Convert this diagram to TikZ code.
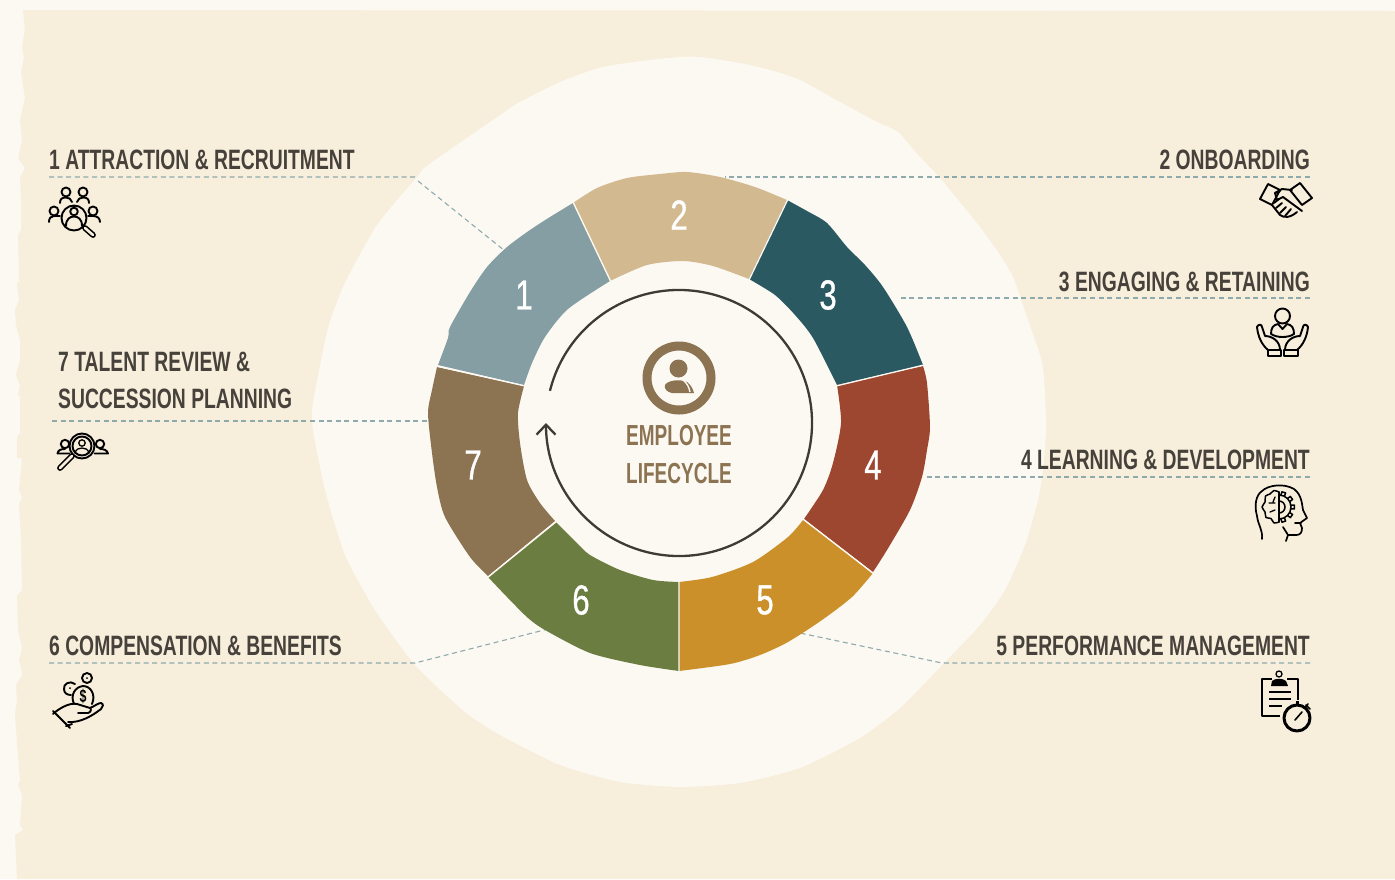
\documentclass[tikz,border=0pt]{standalone}
\usepackage{fontspec}
\usetikzlibrary{arrows.meta}
\setmainfont{Liberation Sans}
\newfontfamily\labfont[FakeStretch=0.69]{Liberation Sans}
\newfontfamily\cenfont[FakeStretch=0.655]{Liberation Sans}
\newfontfamily\numfont[FakeStretch=0.74,FakeBold=0.8]{Liberation Sans}
\definecolor{bgpale}{HTML}{FCF9F3}
\definecolor{beige}{HTML}{F7EEDC}
\definecolor{dashc}{HTML}{8FAAAD}
\definecolor{inkc}{HTML}{46413A}
\definecolor{arcc}{HTML}{3F3A32}
\definecolor{segA}{HTML}{849EA4}
\definecolor{segB}{HTML}{D3B98F}
\definecolor{segC}{HTML}{2A5962}
\definecolor{segD}{HTML}{9E4730}
\definecolor{segE}{HTML}{CB9029}
\definecolor{segF}{HTML}{6B7D40}
\definecolor{segG}{HTML}{8C7352}
\tikzset{
  labeltext/.style={inner sep=0pt,text=inkc,font=\labfont\bfseries\fontsize{28}{28}\selectfont},
  centertext/.style={inner sep=0pt,text=segG,font=\cenfont\bfseries\fontsize{29}{29}\selectfont},
  numtext/.style={inner sep=0pt,text=white,font=\numfont\fontsize{42}{42}\selectfont},
  leader/.style={draw=dashc,line width=1.1pt,dash pattern=on 5pt off 3.6pt},
  icon/.style={draw=black,line width=1.9pt,line cap=round,line join=round,fill=none},
  iconbar/.style={icon,double=beige,double distance=2.6pt,line width=1.6pt},
  divider/.style={draw=bgpale,line width=1.3pt},
  edge/.style={smooth,tension=0.45},
}
\begin{document}
\begin{tikzpicture}[x=1pt,y=-1pt]
\path[use as bounding box,fill=bgpale] (0,0) rectangle (1395,879);
% torn beige sheet
\fill[beige] (23,10) -- (1395,11) -- (1395,879) -- (17,879) -- (15,835) -- (23,830) -- (20,825) -- (22,795) -- (18,785) -- (20,780) -- (19,770) -- (15,715) -- (17,700) -- (16,685) -- (22,675) -- (22,672) -- (19,660) -- (22,648) -- (18,630) -- (17,596) -- (22,590) -- (21,540) -- (19,503) -- (22,498) -- (19,490) -- (22,458) -- (17,458) -- (17,437) -- (20,433) -- (20,397) -- (18,395) -- (20,386) -- (16,375) -- (20,360) -- (20,340) -- (16,325) -- (15,310) -- (19,300) -- (17,283) -- (21,280) -- (19,280) -- (18,235) -- (21,230) -- (21,200) -- (20,178) -- (25,168) -- (18,158) -- (22,140) -- (20,120) -- (25,98) -- (21,72) -- (24,57) -- (22,47) -- (25,30) -- cycle;
% pale blob
\fill[bgpale] plot[smooth cycle,tension=0.35] coordinates {(680,57) (700,57) (740,63) (770,70) (800,80) (840,102) (877,122) (898,132) (918,155) (940,178) (980,227) (1000,255) (1013,277) (1028,320) (1042,362) (1045,395) (1046,430) (1043,470) (1038,500) (1025,545) (1005,590) (980,625) (942,665) (900,708) (860,738) (800,768) (740,783) (680,787) (620,782) (560,765) (500,735) (465,712) (415,665) (375,610) (345,555) (325,490) (313,430) (313,403) (328,328) (345,283) (377,225) (417,177) (428,165) (493,120) (518,103) (560,82) (602,67) (650,60)};
% leader anchor points
\coordinate (l1a) at (49,177); \coordinate (l1b) at (415,177); \coordinate (l1d) at (418,181); \coordinate (l1c) at (505,251);
\coordinate (l2a) at (725,177); \coordinate (l2b) at (1310,177);
\coordinate (l3a) at (900,298); \coordinate (l3b) at (1310,298);
\coordinate (l4a) at (925,477); \coordinate (l4b) at (1310,477);
\coordinate (l5a) at (1310,663); \coordinate (l5b) at (942,663); \coordinate (l5c) at (800,633);
\coordinate (l6a) at (49,663); \coordinate (l6b) at (415,663); \coordinate (l6c) at (548,629);
\coordinate (l7a) at (52,421); \coordinate (l7b) at (430,421);
\draw[leader] (l1a) -- (l1b) (l1d) -- (l1c);
\draw[leader] (l2b) -- (l2a);
\draw[leader] (l3b) -- (l3a);
\draw[leader] (l4b) -- (l4a);
\draw[leader] (l5a) -- (l5b) -- (l5c);
\draw[leader] (l6a) -- (l6b) -- (l6c);
\draw[leader] (l7a) -- (l7b);
% ring segments
\fill[segA] plot[edge] coordinates {(573,203) (550,217) (530,230) (507,247) (487,267) (470,292) (450,327) (448,338) (438,365)} -- plot[edge] coordinates {(524,385) (532,363) (545,337) (568,309) (610,281)} -- cycle;
\fill[segB] plot[edge] coordinates {(573,203) (597,188) (627,178) (660,174) (687,172) (720,177) (755,187) (787,200)} -- plot[edge] coordinates {(749,279) (713,266) (683,261) (647,265) (610,281)} -- cycle;
\fill[segC] plot[edge] coordinates {(787,200) (807,211) (827,223) (847,247) (865,265) (883,287) (907,327) (923,365)} -- plot[edge] coordinates {(837,385) (813,338) (795,315) (775,295) (749,279)} -- cycle;
\fill[segD] plot[edge] coordinates {(923,366) (927,383) (930,427) (927,450) (922,477) (910,510) (887,550) (873,572)} -- plot[edge] coordinates {(804,519) (823,490) (833,463) (841,423) (837,385)} -- cycle;
\fill[segE] plot[edge] coordinates {(873,573) (852,597) (822,620) (788,642) (760,655) (730,664) (679,671)} -- plot[edge] coordinates {(679,582) (712,577) (753,562) (788,537) (803,520)} -- cycle;
\fill[segF] plot[edge] coordinates {(679,671) (640,665) (590,653) (545,630) (528,618) (507,597) (488,577)} -- plot[edge] coordinates {(556,522) (577,543) (590,555) (620,570) (653,580) (679,582)} -- cycle;
\fill[segG] plot[edge] coordinates {(488,576) (470,557) (445,517) (437,487) (432,453) (428,413) (432,390) (437,367)} -- plot[edge] coordinates {(524,386) (518,413) (520,443) (527,480) (540,503) (555,521)} -- cycle;
\coordinate (d12o) at (573,202); \coordinate (d12i) at (611,282);
\coordinate (d23o) at (788,199); \coordinate (d23i) at (749,280);
\coordinate (d34o) at (924,365); \coordinate (d34i) at (836,386);
\coordinate (d45o) at (874,574); \coordinate (d45i) at (803,519);
\coordinate (d56o) at (679,672); \coordinate (d56i) at (679,581);
\coordinate (d67o) at (487,578); \coordinate (d67i) at (557,521);
\coordinate (d71o) at (436,366); \coordinate (d71i) at (525,386);
\draw[divider] (d12o) -- (d12i) (d23o) -- (d23i) (d34o) -- (d34i) (d45o) -- (d45i) (d56o) -- (d56i) (d67o) -- (d67i) (d71o) -- (d71i);
% cycle arrow
\begin{scope}[shift={(679,423)},y=1pt]
\draw[arcc,line width=2.3pt,-{Straight Barb[length=10pt,width=19pt,line width=2.3pt]}] (166:133) arc[start angle=166,end angle=-180,radius=133];
\end{scope}
\node[numtext] (n1) at (524,295) {1};
\node[numtext] (n2) at (679,215) {2};
\node[numtext] (n3) at (828,295) {3};
\node[numtext] (n4) at (873,465) {4};
\node[numtext] (n5) at (765,600) {5};
\node[numtext] (n6) at (581,600) {6};
\node[numtext] (n7) at (473,465) {7};
% centre
\draw[segG,line width=9pt] (679,378) circle[radius=32];
\fill[segG] (678.5,368.5) circle[radius=9];
\fill[segG] (665,385) .. controls (668,380) and (680,379) .. (687,382) .. controls (691,385) and (693,389) .. (694,393) -- (672,393) .. controls (667,392) and (664,389) .. (665,385) -- cycle;
\draw[bgpale,line width=1.4pt] (683,380) .. controls (687,383) and (689,387) .. (690,392);
\node[centertext,anchor=base] (c1) at (679,445.8) {EMPLOYEE};
\node[centertext,anchor=base] (c2) at (679,483.8) {LIFECYCLE};
% labels
\node[labeltext,anchor=base west] (t1) at (49,169.5) {1 ATTRACTION \& RECRUITMENT};
\node[labeltext,anchor=base east] (t2) at (1310,169.5) {2 ONBOARDING};
\node[labeltext,anchor=base east] (t3) at (1310,291.5) {3 ENGAGING \& RETAINING};
\node[labeltext,anchor=base east] (t4) at (1310,469.5) {4 LEARNING \& DEVELOPMENT};
\node[labeltext,anchor=base east] (t5) at (1310,655.5) {5 PERFORMANCE MANAGEMENT};
\node[labeltext,anchor=base west] (t6) at (49,655.5) {6 COMPENSATION \& BENEFITS};
\node[labeltext,anchor=base west] (t7a) at (58,371.5) {7 TALENT REVIEW \&};
\node[labeltext,anchor=base west] (t7b) at (58,408.5) {SUCCESSION PLANNING};
% icon 1: people under a lens
\draw[icon] (74,218) circle[radius=12.5] (74,211.5) circle[radius=3.8];
\draw[icon] (66,226) .. controls (66,219) and (70,216.5) .. (74,216.5) .. controls (78,216.5) and (82,219) .. (82,226);
\draw[iconbar] (85,228) -- (93,235);
\draw[icon] (66,192) circle[radius=4.5] (83,192) circle[radius=4.5] (54,211) circle[radius=4.5] (93,211) circle[radius=4.5];
\draw[icon] (60,203) .. controls (60,199) and (62,197.5) .. (66,197.5) .. controls (69,197.5) and (71,199) .. (72,202);
\draw[icon] (77,202) .. controls (78,199) and (80,197.5) .. (83,197.5) .. controls (87,197.5) and (89,199) .. (89,203);
\draw[icon] (49,222) .. controls (49,218) and (51,216) .. (54,216) -- (60,216);
\draw[icon] (88,216) -- (93,216) .. controls (97,216) and (100,218) .. (100,222);
% icon 2: handshake
\draw[icon] (1260,199) -- (1268,184) -- (1280,190) -- (1272,205) -- cycle;
\draw[icon] (1300,183) -- (1312,198) -- (1302,205) -- (1290,190) -- cycle;
\draw[icon] (1292,190) -- (1282,189) -- (1275,193) -- (1277,200) -- (1283,197) -- (1302,211);
\draw[icon] (1272,205) -- (1280,215) .. controls (1284,218) and (1290,218) .. (1297,212);
\draw[icon] (1274,203) -- (1279,199) (1276,208) -- (1282,203) (1280,213) -- (1286,207) (1285,216) -- (1291,209);
\draw[icon] (1280,191) -- (1275,193);
% icon 3: person held in hands
\draw[icon] (1282.5,316) circle[radius=7.5];
\draw[icon] (1271,334) .. controls (1271,328) and (1273,325) .. (1278,324) -- (1282.5,329) -- (1287,324) .. controls (1292,325) and (1294,328) .. (1294,334) .. controls (1288,338) and (1277,338) .. (1271,334) -- cycle;
\draw[icon] (1268,350) .. controls (1262,345) and (1258,337) .. (1257,327) .. controls (1258,324) and (1262,324) .. (1262,327) -- (1265,336) (1265,336) .. controls (1272,336) and (1280,341) .. (1280,350);
\draw[icon] (1297,350) .. controls (1303,345) and (1307,337) .. (1308,327) .. controls (1307,324) and (1303,324) .. (1303,327) -- (1300,336) (1300,336) .. controls (1293,336) and (1285,341) .. (1285,350);
\draw[icon] (1268,350) rectangle (1281,356) (1284,350) rectangle (1298,356);
% icon 4: head with brain and gear
\draw[icon,line width=1.7pt] (1262,539) .. controls (1263,530) and (1258,525) .. (1257,516) .. controls (1254,505) and (1256,495) .. (1262,491) .. controls (1268,485) and (1284,483) .. (1294,489) .. controls (1302,495) and (1302,505) .. (1303,510) -- (1307,518) -- (1300,523) -- (1302,528) .. controls (1302,533) and (1300,535) .. (1296,535) -- (1288,535) -- (1283,527);
\draw[icon,line width=1.7pt] (1288,535) -- (1286,541) (1301,523) -- (1295,523);
\draw[icon,line width=1.5pt] (1279,492) -- (1279,522);
\draw[icon,line width=1.5pt] plot[smooth] coordinates {(1279,492) (1274,490.5) (1270,494) (1265.5,496) (1265,502) (1262,507) (1265,512) (1266,517.5) (1271,518.5) (1274,523) (1279,522)};
\draw[icon,line width=1.3pt] (1269,503) -- (1275,503) (1270,512) -- (1275,510) (1275,497) -- (1273,502);
\begin{scope}[shift={(1279,507)},y=1pt]
\draw[icon,line width=1.5pt] (90:12) arc[start angle=90,end angle=-90,radius=12];
\draw[icon,line width=1.5pt] (90:6) arc[start angle=90,end angle=-90,radius=6];
\foreach \a in {-72,-36,0,36,72}
  \draw[icon,line width=1.5pt] (\a-9:12) -- (\a-7:15.5) -- (\a+7:15.5) -- (\a+9:12);
\end{scope}
% icon 5: clipboard and stopwatch
\draw[icon,line width=2.4pt,line cap=butt] (1272,679) -- (1262,679) -- (1262,716) -- (1280,716);
\draw[icon,line width=2.4pt,line cap=butt] (1287,679) -- (1298,679) -- (1298,700);
\fill[black] (1271,686) -- (1272,681) .. controls (1275,678) and (1283,678) .. (1286,681) -- (1288,686) -- cycle;
\draw[icon,line width=1.3pt] (1279,674) circle[radius=3];
\draw[black,line width=2.4pt] (1269,692) -- (1291,692) (1269,699) -- (1291,699) (1269,706) -- (1282,706);
\draw[icon,line width=3pt] (1297,718) circle[radius=13];
\draw[icon,line width=3pt,line cap=butt] (1297,701) -- (1297,704.5);
\draw[icon,line width=1.6pt] (1295,720) -- (1302,712);
\draw[icon,line width=1.6pt] (1304,708) -- (1308,704) (1306,705) -- (1310,709);
% icon 6: hand with coins
\draw[icon] (87,678) circle[radius=5];
\fill[black] (87,678) circle[radius=1];
\draw[icon] (75,684) .. controls (70,680) and (63,684) .. (64,689) .. controls (64,693) and (67,695) .. (71,695);
\fill[black] (70,688) circle[radius=1];
\draw[icon] (74,704) .. controls (70,695) and (75,687) .. (83,686) .. controls (91,686) and (96,695) .. (92,704);
\node[inner sep=0pt,text=black,font=\labfont\bfseries\fontsize{18}{18}\selectfont] (dollar) at (83,696.5) {\$};
\draw[icon] (53,714) .. controls (58,709) and (70,702) .. (77,704) -- (90,708) .. controls (95,706) and (98,703) .. (101,703) .. controls (104,704) and (103,707) .. (101,709) .. controls (92,716) and (80,723) .. (68,722);
\draw[icon] (78,713) -- (88,713) .. controls (92,712) and (91,708) .. (90,708);
\draw[icon] (53,711) -- (70,728) (66,726) -- (72,724);
% icon 7: lens between people
\draw[icon] (82,446) circle[radius=12.5] (82,446) circle[radius=9.5];
\draw[icon,line width=1.3pt] (82,443) circle[radius=3.2];
\draw[icon,line width=1.3pt] (75,453) .. controls (76,449) and (79,448) .. (82,448) .. controls (85,448) and (88,449) .. (89,453);
\draw[iconbar] (72,456) -- (60,468);
\draw[icon] (65,444) circle[radius=4.2] (100,444) circle[radius=4.2];
\draw[icon] (69.5,453.5) -- (57.5,453.5) .. controls (58,450) and (61,449) .. (65,449);
\draw[icon] (94.5,453.5) -- (108,453.5) .. controls (107,450) and (104,449) .. (100,449);
\end{tikzpicture}
\end{document}
